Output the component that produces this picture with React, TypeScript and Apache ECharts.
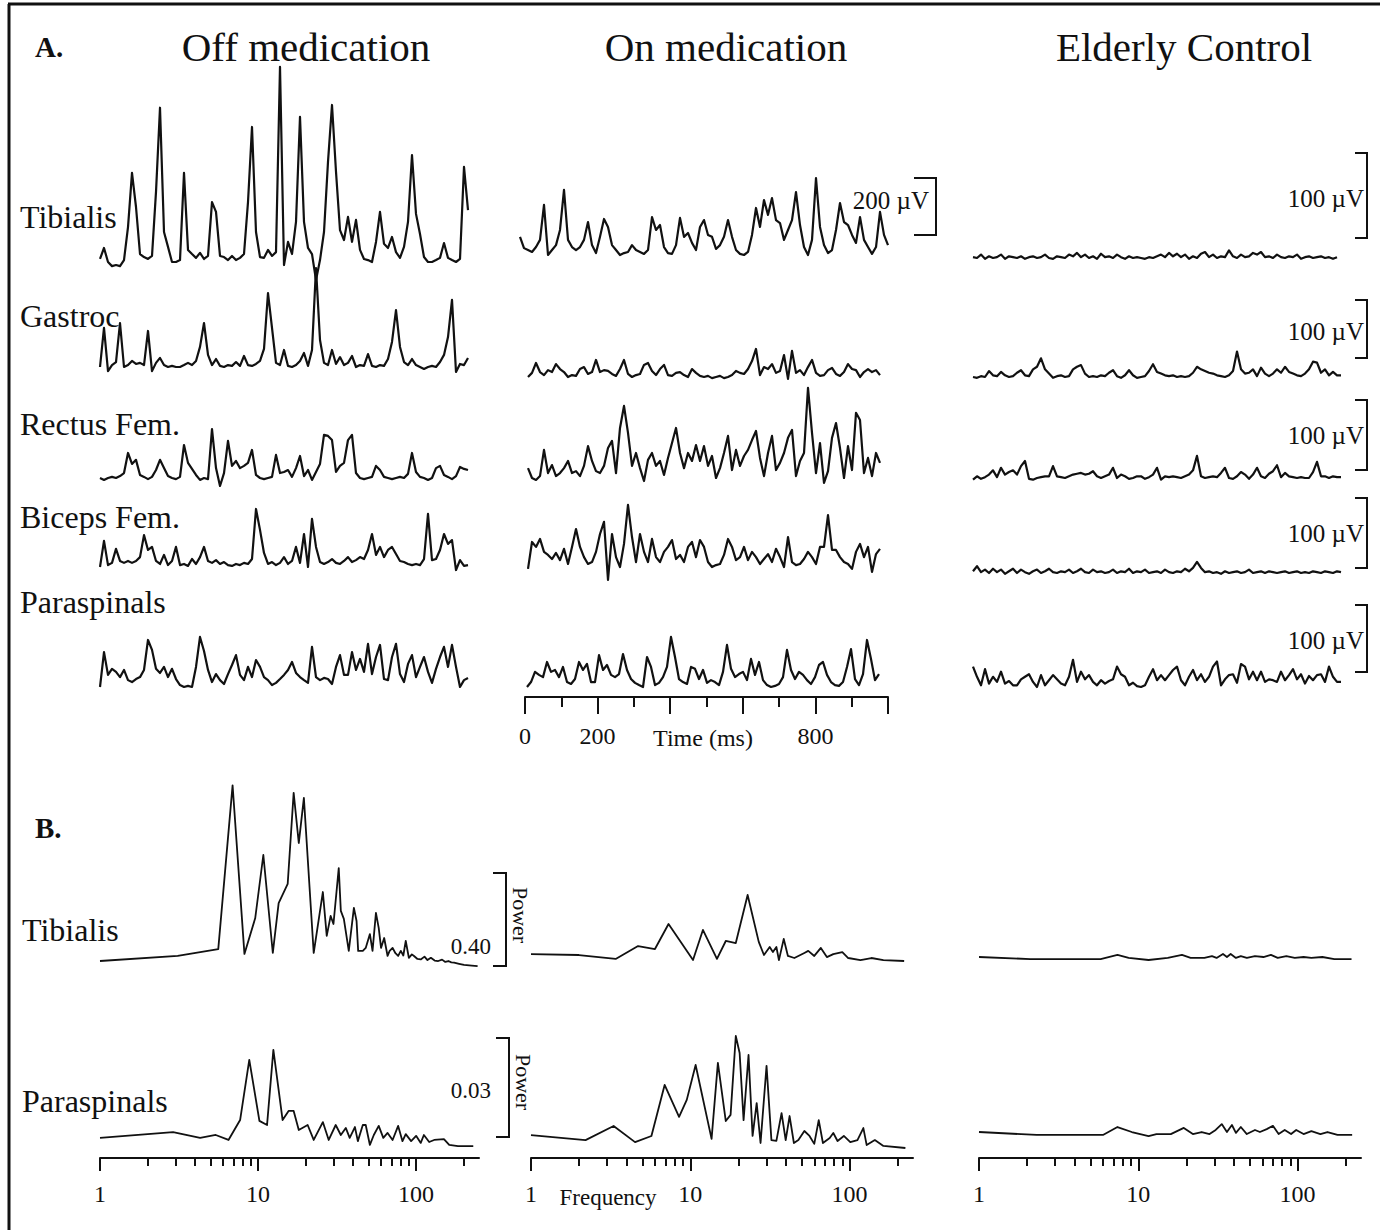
import React, { useEffect, useRef } from "react";
import * as echarts from "echarts";

// ---------- labels ----------
const COLUMN_TITLES = ["Off medication", "On medication", "Elderly Control"];
const MUSCLES = ["Tibialis", "Gastroc", "Rectus Fem.", "Biceps Fem.", "Paraspinals"];
const SPECTRUM_MUSCLES = ["Tibialis", "Paraspinals"];
const TIME_MAJOR = [0, 200, 400, 600, 800, 1000];
const TIME_MINOR = [100, 300, 500, 700, 900];
const TIME_LABELS = [0, 200, 800];
const FREQ_MAJOR = [1, 10, 100];
const FREQ_MINOR = [2, 3, 4, 5, 6, 7, 8, 9, 20, 30, 40, 50, 60, 70, 80, 90, 200];
const FREQ_LABELS = [1, 10, 100];

// ---------- A. rectified EMG (µV), one sample every ~11 ms ----------
const offTibialis = [11,51,0,-15,-11,-15,7,127,324,200, 29,18,11,22,255,561,109,55,0,0, 7,324,44,29,15,33,11,22,218,182, 22,18,7,22,7,15,29,218,491,109, 18,15,44,22,36,710,-11,73,29,146, 528,146,51,29,-66,7,109,364,571,328, 116,80,164,73,153,44,11,7,0,73, 182,66,51,91,36,15,55,146,389,175, 102,18,0,0,7,15,69,15,7,0, 11,346,189];
const offGastroc = [0,142,-15,7,18,160,0,7,22,11, 15,7,131,-15,15,33,7,0,4,0, 0,7,15,7,22,73,160,44,7,29, 4,0,7,4,18,4,40,7,4,11, 22,66,269,142,15,7,62,4,0,7, 22,51,4,62,360,98,15,7,62,11, 36,7,15,40,0,7,4,47,4,0, 7,4,29,91,207,73,18,7,29,7, 0,-7,0,4,0,18,44,109,244,-18, 11,7,33];
const offRectus = [0,-7,0,4,0,7,18,91,51,66, 11,4,-4,4,29,66,36,7,0,-4, 4,120,55,33,11,-7,0,-4,178,36, -29,18,135,44,62,36,44,55,102,11, 0,-4,0,4,84,18,22,29,4,36, 80,7,29,-7,22,51,157,153,138,22, 44,55,138,157,18,0,-4,0,4,44, 29,4,0,-4,0,4,0,15,91,22, 4,0,-7,0,36,44,11,4,-4,7, 40,33,29];
const offBiceps = [0,95,7,15,66,22,15,22,15,22, 36,116,62,73,22,11,44,7,22,73, 7,11,4,29,11,36,73,22,15,25, 11,18,7,4,11,7,15,11,29,211, 135,51,11,18,7,15,36,11,22,73, 15,120,0,175,73,18,11,18,29,15, 11,22,36,18,25,36,29,62,120,44, 73,36,62,73,47,22,18,11,7,11, 7,29,193,25,29,62,120,84,98,-11, 25,4,7];
const offParaspinals = [0,127,44,66,55,36,62,25,18,29, 36,62,171,135,66,51,73,36,66,29, 7,0,4,0,73,182,131,62,18,47, 25,11,47,80,116,44,25,73,36,98, 73,36,25,7,15,29,44,62,91,51, 36,25,15,146,36,25,33,29,11,73, 116,44,44,127,62,102,55,157,47,109, 153,29,25,109,157,47,18,84,116,36, 73,109,55,15,66,109,146,73,153,73, 0,25,33];

const onTibialis = [66,25,18,11,29,55,182,0,18,36, 91,237,55,29,18,29,55,120,36,7, 66,131,102,36,18,0,7,11,36,18, 11,4,18,138,91,109,29,7,4,36, 135,66,80,44,18,102,127,73,66,22, 36,66,127,66,18,4,0,11,73,171, 102,200,146,207,127,116,55,91,127,229, 109,29,0,55,280,102,36,7,18,91, 189,120,109,73,44,138,55,29,4,29, 157,73,36];
const onGastroc = [0,15,51,18,7,25,18,47,29,18, 0,7,4,29,36,11,18,62,18,25, 22,11,4,29,62,11,0,7,11,44, 51,22,7,29,44,7,4,15,18,7, 0,29,15,4,0,4,-4,0,4,-4, 0,7,22,15,11,29,58,102,7,36, 29,47,15,22,80,-7,95,15,25,7, 36,62,15,4,7,25,33,11,4,18, 47,29,25,0,18,29,18,25,7];
const onRectus = [36,0,-7,7,102,18,47,7,18,36, 62,18,25,7,44,116,62,25,18,44, 109,135,18,182,262,164,44,91,36,-11, 66,91,44,62,11,73,127,182,91,36, 91,62,120,62,116,44,80,0,36,91, 153,29,102,44,80,102,138,171,73,7, 91,153,29,55,91,146,175,7,62,91, 328,164,18,127,-18,25,146,200,109,0, 116,29,237,211,18,73,7,91,55];
const onBiceps = [-7,91,73,102,55,44,29,51,25,66, 11,73,138,73,36,11,18,55,120,164, -47,120,36,0,84,226,109,18,120,55, 18,102,36,18,55,73,98,29,44,18, 73,91,36,98,73,18,0,7,11,44, 102,73,25,36,73,25,55,36,11,29, 47,18,66,36,0,109,18,7,11,29, 55,36,11,73,73,189,62,62,36,18, 11,-7,55,84,36,73,-18,47,66];
const onParaspinals = [0,18,55,44,36,91,55,62,36,73, 18,11,29,91,62,84,18,18,116,62, 80,44,36,47,120,62,29,15,7,0, 109,73,7,15,36,73,182,109,29,18, 11,73,66,29,62,15,25,18,7,55, 153,66,36,47,55,25,102,44,91,25, 7,0,4,11,36,135,62,29,55,44, 25,11,36,80,91,44,18,7,4,18, 73,138,29,7,47,171,102,25,47];

const eldTibialis = [1,0,4,-1,2,0,1,4,-1,2, 1,0,2,-1,1,2,0,1,4,0, -1,2,1,0,4,2,6,1,4,0, 2,-1,5,1,2,0,4,1,-1,2, 0,1,0,-1,1,0,2,4,1,6, 2,5,1,4,-1,2,0,5,7,1, 4,0,2,1,9,2,0,4,1,2, 6,4,7,1,2,0,4,1,0,2, 1,4,-1,1,2,0,1,2,0,1, -1,1];
const eldGastroc = [0,-1,1,0,7,2,1,6,2,0, 1,5,8,2,1,9,12,22,9,4, -1,1,2,0,1,9,12,14,4,0, 1,0,2,1,5,8,1,-1,2,8, 2,-1,0,1,7,15,6,4,2,1, 2,0,1,0,1,5,12,9,7,5, 4,2,1,0,2,7,30,9,4,5, 9,1,11,4,1,4,9,5,12,6, 4,2,1,4,9,18,17,5,9,2, 6,2,2];
const eldRectus = [-2,2,-1,1,4,9,1,12,4,7, 9,4,14,20,-1,-2,0,1,2,2, 14,2,1,0,2,4,5,6,4,5, 8,2,0,2,4,12,0,4,2,-1, 0,2,2,-1,1,4,12,-2,2,1, 2,1,0,2,4,9,26,2,0,1, 2,1,6,12,0,-1,2,7,4,-1, 4,12,2,0,5,8,15,1,6,2, 1,0,1,0,0,7,19,2,2,0, 2,1,1];
const eldBiceps = [2,8,1,4,0,5,1,4,-1,2, 5,0,4,1,-1,2,4,0,2,5, 1,0,2,1,4,0,2,5,1,0, 4,1,2,0,1,4,0,2,1,5, 0,2,1,4,0,1,2,0,4,1, 0,2,1,5,2,6,13,6,1,2, 0,1,-1,2,0,1,2,0,1,4, 0,1,2,0,2,1,0,1,2,0, 1,2,0,1,0,2,1,0,2,1, 0,2,1];
const eldParaspinals = [24,12,2,21,4,12,6,18,4,7, 2,2,9,12,15,6,0,14,2,8, 14,9,4,2,12,32,6,18,9,14, 6,2,8,4,7,9,24,15,12,2, 5,1,0,2,12,21,8,14,8,14, 20,24,8,2,12,20,8,15,6,12, 24,30,2,9,14,15,5,27,24,9, 18,8,18,6,9,8,6,18,8,14, 21,9,15,4,13,8,14,15,6,24, 12,6,6];

// ---------- B. power spectra (frequency Hz, power) ----------
const offTibFreq = [1,3.1,5.6,6.9,8.2,9.6,10.8,12.4,13.5,15.4, 16.8,18.1,19.5,22.5,25.7,27.2,28.8,30,32.4,33.4, 34.9,37.5,40.4,42,43,46,48,51,53,55.7, 58,60,62.8,66,68,71,74,77,80,83, 86,90,94,97,102,107,113,118,124,131, 138,146,153,160,167,174,187,201,225,245];
const offTibPower = [0.026,0.048,0.078,0.79,0.057,0.213,0.487,0.061,0.278,0.361, 0.757,0.539,0.735,0.061,0.326,0.135,0.222,0.187,0.43,0.244, 0.209,0.07,0.257,0.2,0.07,0.07,0.083,0.143,0.07,0.235, 0.17,0.083,0.126,0.048,0.07,0.083,0.06,0.048,0.07,0.05, 0.113,0.04,0.055,0.048,0.035,0.033,0.045,0.03,0.04,0.028, 0.026,0.032,0.022,0.026,0.02,0.019,0.014,0.009,0.006,0.004];
const offParaFreq = [1,2.9,4.3,5.4,6.5,7.7,8.8,10.2,11.4,12.5, 14.3,15.6,16.8,18.1,20.6,22.5,25.7,28,31,33.4, 35.9,38,41,42.8,46,48,51,54,58,62, 66,71,77,82,86,93,100,107,112,121, 130,150,162,184,230];
const offParaPower = [0.0031,0.0051,0.0031,0.0041,0.0024,0.0092,0.0297,0.0089,0.0075,0.0331, 0.0092,0.0123,0.0123,0.0058,0.0075,0.0024,0.0085,0.0024,0.0075,0.0041, 0.0065,0.0031,0.0068,0.002,0.0075,0.0075,0.0007,0.0041,0.0072,0.0031, 0.0048,0.0024,0.0072,0.002,0.0044,0.002,0.0038,0.0014,0.0041,0.0017, 0.0024,0.0027,0.0007,0.0003,0.0003];
const onTibFreq = [1,2,3.4,4.7,6,7.3,10.4,12,14.7,16.7, 19.3,22.9,26.9,29,31.5,33,34.7,36,38.6,41, 45,52,55,60,66,72,79,90,98,117, 137,163,220];
const onTibPower = [0.03,0.026,0.009,0.065,0.052,0.161,0.004,0.135,0.009,0.087, 0.078,0.287,0.083,0.026,0.061,0.039,0.061,0.004,0.096,0.022, 0.013,0.035,0.044,0.022,0.057,0.017,0.03,0.039,0.013,0.004, 0.013,0.004,0];
const onParaFreq = [1,2.2,3.3,4.5,5.7,6.9,8.5,9.5,10.8,13.6, 14.9,16.7,17.9,19.3,20.4,21.6,23.2,24.6,26.1,27.6, 30.1,32.3,34.7,37.4,39.7,42,44.7,47.7,52,56, 60,64,68,75,79,84,92,101,112,122, 128,144,163,224];
const onParaPower = [0.0044,0.0027,0.0075,0.002,0.0041,0.0215,0.0106,0.0164,0.0283,0.0031, 0.029,0.0092,0.0113,0.0382,0.0324,0.0095,0.0317,0.0041,0.0153,0.0017, 0.028,0.0027,0.0024,0.0119,0.0027,0.0109,0.0017,0.0027,0.0058,0.0041, 0.0014,0.0095,0.0017,0.0034,0.0051,0.0024,0.0041,0.002,0.0027,0.0068, 0.001,0.0027,0.0007,0];
const eldTibFreq = [1,2.1,5.8,7.4,8.7,11.6,15.3,18.8,21.3,26, 29,31,34,36,38,41,44,48,54,61, 68,75,85,96,109,122,143,170,218];
const eldTibPower = [0.013,0.004,0.004,0.022,0.009,0,0.009,0.022,0.009,0.009, 0.017,0.009,0.026,0.013,0.026,0.009,0.017,0.009,0.017,0.013, 0.022,0.009,0.017,0.009,0.013,0.009,0.013,0.004,0.004];
const eldParaFreq = [1,2.3,6,7.4,9.1,11.6,13,16,19.3,22, 25,28,30.6,33.4,36,38.7,41,44,48,54, 58,64,70,76,83,91,98,109,122,139, 154,178,220];
const eldParaPower = [0.0017,0.0007,0.0007,0.0034,0.0017,0.0003,0.001,0.001,0.0031,0.001, 0.0017,0.001,0.0024,0.0044,0.0017,0.0041,0.0014,0.0034,0.001,0.0024, 0.0017,0.0027,0.0038,0.001,0.0024,0.001,0.0024,0.001,0.002,0.001, 0.0017,0.0007,0.0007];

// ---------- layout ----------
const INK = "#111";
const FONT = "'Liberation Serif', 'DejaVu Serif', serif";

function buildOption() {
  const grid: any[] = [];
  const xAxis: any[] = [];
  const yAxis: any[] = [];
  const series: any[] = [];
  const addGrid = (g: any) => {
    grid.push({ ...g, containLabel: false, show: false });
    return grid.length - 1;
  };

  const trace = (values: number[], left: number, width: number, baseline: number, pxPerUnit: number, yMin: number, yMax: number) => {
    const gi = addGrid({ left, width, top: baseline - yMax * pxPerUnit, height: (yMax - yMin) * pxPerUnit });
    xAxis.push({ gridIndex: gi, type: "category", boundaryGap: false, data: values.map((_, i) => i), show: false });
    yAxis.push({ gridIndex: gi, type: "value", min: yMin, max: yMax, show: false });
    series.push({
      type: "line", xAxisIndex: gi, yAxisIndex: gi, data: values, showSymbol: false, symbol: "none",
      lineStyle: { color: INK, width: 2.2, join: "round" }, silent: true, clip: false,
    });
  };

  const spectrum = (freqs: number[], power: number[], left: number, width: number, zeroY: number, pxPerUnit: number, yMax: number) => {
    const gi = addGrid({ left, width, top: zeroY - yMax * pxPerUnit, height: yMax * pxPerUnit });
    xAxis.push({ gridIndex: gi, type: "log", logBase: 10, min: 1, max: 250, show: false });
    yAxis.push({ gridIndex: gi, type: "value", min: 0, max: yMax, show: false });
    series.push({
      type: "line", xAxisIndex: gi, yAxisIndex: gi, data: freqs.map((f, i) => [f, power[i]]),
      showSymbol: false, symbol: "none", lineStyle: { color: INK, width: 1.8, join: "round" }, silent: true, clip: false,
    });
  };

  const tickAxis = (type: string, min: number, max: number, left: number, width: number, axisY: number,
    major: number[], minor: number[], labels: number[], majorLen: number, minorLen: number, labelMargin: number) => {
    const g1 = addGrid({ left, width, top: axisY - 10, height: 10 });
    xAxis.push({
      gridIndex: g1, type, min, max, position: "bottom", ...(type === "log" ? { logBase: 10 } : {}),
      axisLine: { show: true, lineStyle: { color: INK, width: 2 } },
      axisTick: { show: true, customValues: major, length: majorLen, lineStyle: { color: INK, width: 2 } },
      axisLabel: { show: true, customValues: labels, margin: labelMargin, color: INK, fontFamily: FONT, fontSize: 24, formatter: (v: number) => String(Math.round(v)) },
      splitLine: { show: false }, minorTick: { show: false },
    });
    yAxis.push({ gridIndex: g1, type: "value", show: false });
    const g2 = addGrid({ left, width, top: axisY - 10, height: 10 });
    xAxis.push({
      gridIndex: g2, type, min, max, position: "bottom", ...(type === "log" ? { logBase: 10 } : {}),
      axisLine: { show: false },
      axisTick: { show: true, customValues: minor, length: minorLen, lineStyle: { color: INK, width: 2 } },
      axisLabel: { show: false }, splitLine: { show: false },
    });
    yAxis.push({ gridIndex: g2, type: "value", show: false });
  };

  // EMG traces: Off / On (200 µV = 55 px), Elderly (100 µV = 85 px)
  const S1 = 55 / 200;
  const S3 = 85 / 100;
  const offBase = [262, 367, 478, 567, 687];
  const onBase = [255, 377, 478, 567, 687];
  const eldBase = [258, 377, 478, 573, 687];
  const offData = [offTibialis, offGastroc, offRectus, offBiceps, offParaspinals];
  const onData = [onTibialis, onGastroc, onRectus, onBiceps, onParaspinals];
  const eldData = [eldTibialis, eldGastroc, eldRectus, eldBiceps, eldParaspinals];
  const onLeft = [520, 528, 528, 528, 527];
  offData.forEach((d, i) => trace(d, 100, (d.length - 1) * 4, offBase[i], S1, -100, 800));
  onData.forEach((d, i) => trace(d, onLeft[i], (d.length - 1) * 4, onBase[i], S1, -100, 800));
  eldData.forEach((d, i) => trace(d, 973, (d.length - 1) * 4, eldBase[i], S3, -30, 250));

  // time axis
  tickAxis("value", 0, 1000, 525, 363, 697, TIME_MAJOR, TIME_MINOR, TIME_LABELS, 17, 10, 27);

  // spectra
  const TP = 92 / 0.4;
  const PP = 88 / 0.03;
  const colLeft = [100, 531, 979];
  const colWidth = [379, 382, 382];
  spectrum(offTibFreq, offTibPower, colLeft[0], colWidth[0], 967, TP, 0.8);
  spectrum(onTibFreq, onTibPower, colLeft[1], colWidth[1], 961, TP, 0.8);
  spectrum(eldTibFreq, eldTibPower, colLeft[2], colWidth[2], 960, TP, 0.8);
  spectrum(offParaFreq, offParaPower, colLeft[0], colWidth[0], 1147, PP, 0.04);
  spectrum(onParaFreq, onParaPower, colLeft[1], colWidth[1], 1148, PP, 0.04);
  spectrum(eldParaFreq, eldParaPower, colLeft[2], colWidth[2], 1137, PP, 0.04);
  for (let c = 0; c < 3; c++) {
    tickAxis("log", 1, 250, colLeft[c], colWidth[c], 1158, FREQ_MAJOR, FREQ_MINOR, FREQ_LABELS, 13, 8, 24);
  }

  // ---------- annotations ----------
  const txt = (x: number, y: number, text: string, size: number, align = "left", extra: any = {}) => ({
    type: "text", x, y, silent: true, ...(extra.rotation !== undefined ? { rotation: extra.rotation } : {}),
    style: {
      text, fontSize: size, fontFamily: FONT, fill: INK, fontWeight: extra.bold ? "bold" : "normal",
      align, verticalAlign: "middle", textAlign: align, textVerticalAlign: "middle",
    },
  });
  const poly = (points: number[][], w = 2) => ({
    type: "polyline", silent: true, shape: { points }, style: { stroke: INK, lineWidth: w, fill: "none" },
  });
  const bracket = (x: number, y1: number, y2: number, tick: number) => poly([[x - tick, y1], [x, y1], [x, y2], [x - tick, y2]]);

  const graphic: any[] = [
    poly([[8, 4], [1380, 4]], 3),
    poly([[9, 4], [9, 1230]], 3),
    txt(35, 47, "A.", 29, "left", { bold: true }),
    txt(35, 828, "B.", 29, "left", { bold: true }),
    txt(306, 47, COLUMN_TITLES[0], 41, "center"),
    txt(726, 47, COLUMN_TITLES[1], 41, "center"),
    txt(1184, 47, COLUMN_TITLES[2], 41, "center"),
  ];
  const rowY = [217, 316, 424, 517, 602];
  MUSCLES.forEach((m, i) => graphic.push(txt(20, rowY[i], m, 32)));
  graphic.push(txt(22, 930, SPECTRUM_MUSCLES[0], 32));
  graphic.push(txt(22, 1101, SPECTRUM_MUSCLES[1], 32));

  // scale bars
  graphic.push(bracket(936, 178, 235, 22));
  graphic.push(txt(929, 200, "200 µV", 25, "right"));
  const eldBar = [[153, 238], [300, 358], [400, 470], [498, 568], [605, 672]];
  const eldLabelY = [198, 331, 435, 533, 640];
  eldBar.forEach((b, i) => {
    graphic.push(bracket(1367, b[0], b[1], 12));
    graphic.push(txt(1364, eldLabelY[i], "100 µV", 25, "right"));
  });
  graphic.push(bracket(506, 873, 966, 13));
  graphic.push(txt(491, 946, "0.40", 23, "right"));
  graphic.push(txt(520, 915, "Power", 22, "center", { rotation: -Math.PI / 2 }));
  graphic.push(bracket(509, 1038, 1137, 13));
  graphic.push(txt(491, 1090, "0.03", 23, "right"));
  graphic.push(txt(523, 1082, "Power", 22, "center", { rotation: -Math.PI / 2 }));

  graphic.push(txt(703, 738, "Time (ms)", 24, "center"));
  graphic.push(txt(608, 1197, "Frequency", 23, "center"));

  return {
    animation: false,
    backgroundColor: "#ffffff",
    grid, xAxis, yAxis, series, graphic,
  };
}

export default function App() {
  const ref = useRef<HTMLDivElement>(null);
  useEffect(() => {
    const chart = echarts.init(ref.current!, null, { renderer: "svg" });
    chart.setOption(buildOption() as any);
    return () => chart.dispose();
  }, []);
  return (
    <div
      ref={ref}
      style={{ position: "absolute", left: 0, top: 0, width: 1380, height: 1230, background: "#fff" }}
    />
  );
}
